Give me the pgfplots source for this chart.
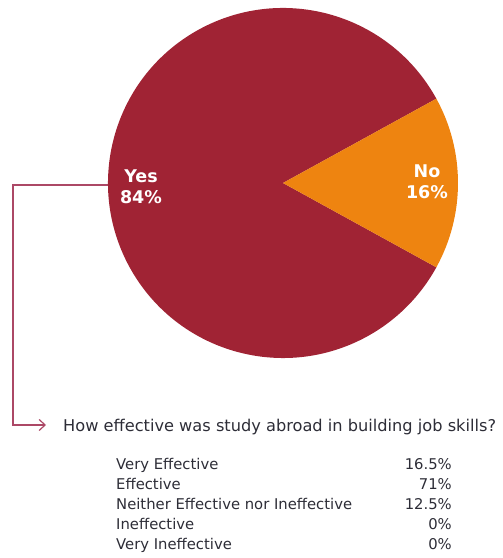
\documentclass[border=0pt]{standalone}
\usepackage{pgfplots}
\pgfplotsset{compat=1.18}
\usepackage{pgfplotstable}
\usepackage{fontspec}
\setmainfont{DejaVu Sans}
\usetikzlibrary{arrows.meta}
\definecolor{yescol}{RGB}{160,35,52}
\definecolor{nocol}{RGB}{238,132,16}
\definecolor{linkcol}{RGB}{172,72,102}
\definecolor{txt}{RGB}{45,45,55}
\tikzset{tbl/.style={txt,inner sep=0pt,font=\fontsize{14.8bp}{17bp}\selectfont}}

\pgfplotstableread{
answer share
Yes 84
No 16
}\piedata

\begin{document}
\begin{tikzpicture}
\begin{axis}[x=1bp,y=1bp,xmin=0,xmax=503,ymin=0,ymax=558,hide axis,clip=false]
\pgfplotstablegetelem{1}{share}\of\piedata
\pgfmathsetmacro\nohalf{\pgfplotsretval*1.8}
% connector from the Yes slice to the follow-up question
\draw[linkcol,line width=1.2bp,-{Straight Barb[length=6bp,width=11bp,line width=1.2bp]}]
  (axis cs:150,373) -- (axis cs:13,373) -- (axis cs:13,133) -- (axis cs:46,133);
\fill[yescol] (axis cs:283,375) -- ++(\nohalf:175bp)
  arc[start angle=\nohalf, end angle=360-\nohalf, radius=175bp] -- cycle;
\fill[nocol] (axis cs:283,375) -- ++(-\nohalf:175bp)
  arc[start angle=-\nohalf, end angle=\nohalf, radius=175bp] -- cycle;
\node[white,font=\fontsize{17.5bp}{21bp}\selectfont\bfseries,align=center] at (axis cs:141,371) {Yes\\84\%};
\node[white,font=\fontsize{17.5bp}{21bp}\selectfont\bfseries,align=center] at (axis cs:427,376) {No\\16\%};
\node[txt,anchor=base west,inner sep=0pt,font=\fontsize{16.2bp}{19bp}\selectfont] at (axis cs:63,126)
  {How effective was study abroad in building job skills?};
\node[tbl,anchor=base west] at (axis cs:116,88) {Very Effective};
\node[tbl,anchor=base west] at (axis cs:116,68) {Effective};
\node[tbl,anchor=base west] at (axis cs:116,48) {Neither Effective nor Ineffective};
\node[tbl,anchor=base west] at (axis cs:116,28) {Ineffective};
\node[tbl,anchor=base west] at (axis cs:116,8) {Very Ineffective};
\node[tbl,anchor=base east] at (axis cs:452,88) {16.5\%};
\node[tbl,anchor=base east] at (axis cs:452,68) {71\%};
\node[tbl,anchor=base east] at (axis cs:452,48) {12.5\%};
\node[tbl,anchor=base east] at (axis cs:452,28) {0\%};
\node[tbl,anchor=base east] at (axis cs:452,8) {0\%};
\end{axis}
\pgfresetboundingbox
\path (current axis.south west) rectangle (current axis.north east);
\end{tikzpicture}
\end{document}
